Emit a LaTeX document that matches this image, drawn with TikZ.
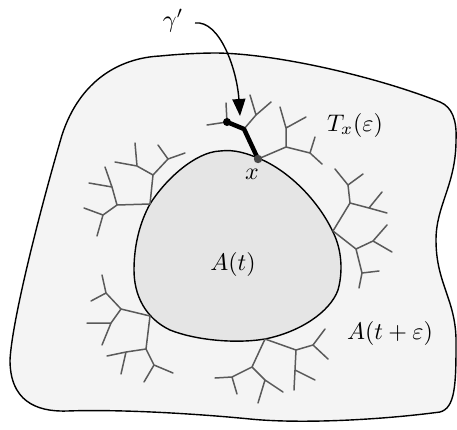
\documentclass[tikz,border=0pt]{standalone}
\usetikzlibrary{arrows.meta}
\definecolor{outerfill}{HTML}{F4F4F4}
\definecolor{innerfill}{HTML}{E5E5E5}
\definecolor{treegray}{HTML}{5A5A5A}
\begin{document}
\begin{tikzpicture}[x=1pt,y=-1pt,
  bound/.style={draw=black,line width=1.4pt},
  treeline/.style={draw=treegray,line width=1.5pt,line cap=round,line join=round},
  lbl/.style={inner sep=0pt,scale=2.4}]
\useasboundingbox (0,0) rectangle (457,429);
% outer region A(t+eps)
\draw[bound,fill=outerfill] (217,53)
  .. controls (280,54) and (380,78) .. (440,102)
  .. controls (452,107) and (457,120) .. (456,140)
  .. controls (456,185) and (436,205) .. (436,240)
  .. controls (436,285) and (457,300) .. (456,345)
  .. controls (456,385) and (455,408) .. (440,412)
  .. controls (380,420) and (300,424) .. (250,419)
  .. controls (200,414) and (120,409) .. (67,411)
  .. controls (35,412) and (10,400) .. (10,360)
  .. controls (12,320) and (40,210) .. (62,135)
  .. controls (80,80) and (120,58) .. (160,56)
  .. controls (180,54) and (200,53) .. (217,53) -- cycle;
% inner region A(t)
\draw[bound,fill=innerfill] (220,151)
  .. controls (235,149) and (248,154) .. (258,158)
  .. controls (288,170) and (318,200) .. (333,232)
  .. controls (342,250) and (343,272) .. (338,290)
  .. controls (330,312) and (300,332) .. (265,339)
  .. controls (235,344) and (195,340) .. (170,330)
  .. controls (145,318) and (134,295) .. (134,270)
  .. controls (134,245) and (140,222) .. (150,204)
  .. controls (165,180) and (195,152) .. (220,151) -- cycle;
% tree at x
\coordinate (x0) at (258,159);
\coordinate (ta) at (244,129); \coordinate (ta1) at (227,122); \coordinate (ta2) at (256,115);
\coordinate (tb) at (286,147); \coordinate (tb1) at (286,128); \coordinate (tb2) at (310,153);
\draw[treeline] (x0) -- (ta) (ta) -- (ta1) (ta1) -- (207,125) (ta1) -- (226,103)
  (ta) -- (ta2) (ta2) -- (250,95) (ta2) -- (271,102)
  (x0) -- (tb) (tb) -- (tb1) (tb1) -- (280,107) (tb1) -- (306,117)
  (tb) -- (tb2) (tb2) -- (315,137) (tb2) -- (322,164);
% right tree
\coordinate (r0) at (333,231);
\coordinate (ra) at (350,203); \coordinate (ra1) at (348,185); \coordinate (ra2) at (369,208);
\coordinate (rb) at (356,249); \coordinate (rb1) at (373,241); \coordinate (rb2) at (362,273);
\draw[treeline] (r0) -- (ra) (ra) -- (ra1) (ra1) -- (335,169) (ra1) -- (363,174)
  (ra) -- (ra2) (ra2) -- (382,192) (ra2) -- (387,213)
  (r0) -- (rb) (rb) -- (rb1) (rb1) -- (387,225) (rb1) -- (392,252)
  (rb) -- (rb2) (rb2) -- (379,271) (rb2) -- (359,288);
% left upper tree
\coordinate (lu0) at (150,204);
\coordinate (lua) at (153,175); \coordinate (lua1) at (137,166); \coordinate (lua2) at (168,159);
\coordinate (lub) at (117,205); \coordinate (lub1) at (112,187); \coordinate (lub2) at (103,215);
\draw[treeline] (lu0) -- (lua) (lua) -- (lua1) (lua1) -- (135,143) (lua1) -- (115,162)
  (lua) -- (lua2) (lua2) -- (158,145) (lua2) -- (185,153)
  (lu0) -- (lub) (lub) -- (lub1) (lub1) -- (105,167) (lub1) -- (89,183)
  (lub) -- (lub2) (lub2) -- (84,208) (lub2) -- (97,236);
% left lower tree
\coordinate (ll0) at (150,316);
\coordinate (lla) at (121,309); \coordinate (lla1) at (106,293); \coordinate (lla2) at (111,323);
\coordinate (llb) at (146,349); \coordinate (llb1) at (126,352); \coordinate (llb2) at (154,365);
\draw[treeline] (ll0) -- (lla) (lla) -- (lla1) (lla1) -- (102,275) (lla1) -- (91,301)
  (lla) -- (lla2) (lla2) -- (87,323) (lla2) -- (102,345)
  (ll0) -- (llb) (llb) -- (llb1) (llb1) -- (107,356) (llb1) -- (121,374)
  (llb) -- (llb2) (llb2) -- (173,373) (llb2) -- (144,382);
% bottom tree
\coordinate (b0) at (265,339);
\coordinate (ba) at (252,367); \coordinate (ba1) at (232,377); \coordinate (ba2) at (265,380);
\coordinate (bb) at (296,350); \coordinate (bb1) at (313,345); \coordinate (bb2) at (295,370);
\draw[treeline] (b0) -- (ba) (ba) -- (ba1) (ba1) -- (215,378) (ba1) -- (237,394)
  (ba) -- (ba2) (ba2) -- (283,392) (ba2) -- (258,403)
  (b0) -- (bb) (bb) -- (bb1) (bb1) -- (325,329) (bb1) -- (328,359)
  (bb) -- (bb2) (bb2) -- (315,380) (bb2) -- (294,390);
% path gamma'
\draw[black,line width=4.5pt,line join=round,line cap=round] (x0) -- (ta) -- (ta1);
\fill[black] (ta1) circle (4);
\fill[black!72] (x0) circle (4.2);
% labels
\node[lbl] (gam) at (173,21) {$\gamma'$};
\coordinate (arrstart) at (195,23);
\coordinate (arrtip) at (240,116);
\draw[black,line width=1.4pt,-{Triangle[length=17pt,width=13pt]}]
  (arrstart) .. controls (220,20) and (237,70) .. (arrtip);
\node[lbl] (xl) at (252,174) {$x$};
\node[lbl] (tl) at (355,125) {$T_x(\varepsilon)$};
\node[lbl] (al) at (233,264) {$A(t)$};
\node[lbl] (ael) at (390,333) {$A(t+\varepsilon)$};
\end{tikzpicture}
\end{document}
